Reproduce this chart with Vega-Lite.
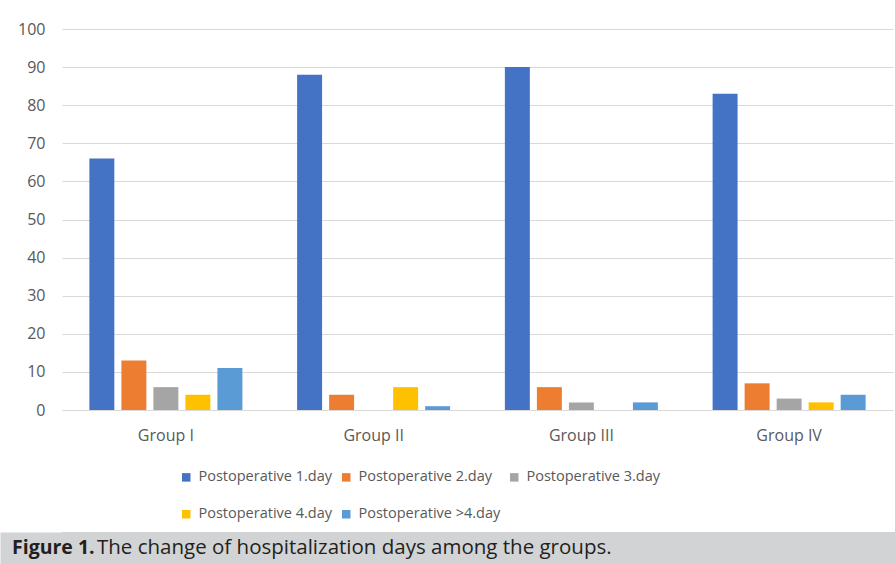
{
  "$schema": "https://vega.github.io/schema/vega-lite/v6.json",
  "padding": {"top": 21, "left": 0, "right": 0, "bottom": 0},
  "background": "white",
  "spacing": 8,
  "columns": 1,
  "align": "none",
  "resolve": {"legend": {"color": "independent"}, "scale": {"color": "independent"}},
  "config": {"view": {"stroke": null}, "font": "Open Sans"},
  "title": {
    "text": "Figure 1.",
    "orient": "bottom",
    "anchor": "start",
    "frame": "bounds",
    "offset": -10,
    "dx": 12,
    "fontSize": 19.5,
    "fontWeight": "bold",
    "font": "Open Sans",
    "color": "#231f20",
    "baseline": "alphabetic"
  },
  "concat": [
    {
      "width": 831,
      "height": 381,
      "data": {
        "values": [
          {"group": "Group I", "day": "Postoperative 1.day", "value": 66},
          {"group": "Group I", "day": "Postoperative 2.day", "value": 13},
          {"group": "Group I", "day": "Postoperative 3.day", "value": 6},
          {"group": "Group I", "day": "Postoperative 4.day", "value": 4},
          {"group": "Group I", "day": "Postoperative >4.day", "value": 11},
          {"group": "Group II", "day": "Postoperative 1.day", "value": 88},
          {"group": "Group II", "day": "Postoperative 2.day", "value": 4},
          {"group": "Group II", "day": "Postoperative 3.day", "value": 0},
          {"group": "Group II", "day": "Postoperative 4.day", "value": 6},
          {"group": "Group II", "day": "Postoperative >4.day", "value": 1},
          {"group": "Group III", "day": "Postoperative 1.day", "value": 90},
          {"group": "Group III", "day": "Postoperative 2.day", "value": 6},
          {"group": "Group III", "day": "Postoperative 3.day", "value": 2},
          {"group": "Group III", "day": "Postoperative 4.day", "value": 0},
          {"group": "Group III", "day": "Postoperative >4.day", "value": 2},
          {"group": "Group IV", "day": "Postoperative 1.day", "value": 83},
          {"group": "Group IV", "day": "Postoperative 2.day", "value": 7},
          {"group": "Group IV", "day": "Postoperative 3.day", "value": 3},
          {"group": "Group IV", "day": "Postoperative 4.day", "value": 2},
          {"group": "Group IV", "day": "Postoperative >4.day", "value": 4}
        ]
      },
      "mark": {"type": "bar"},
      "encoding": {
        "x": {
          "field": "group",
          "type": "nominal",
          "sort": null,
          "scale": {"paddingInner": 0, "paddingOuter": 0},
          "axis": {
            "title": null,
            "labelAngle": 0,
            "ticks": false,
            "domainColor": "#d9d9d9",
            "domainWidth": 1,
            "labelPadding": 17,
            "labelFontSize": 16,
            "labelColor": "#595959",
            "labelFont": "Open Sans",
            "grid": false
          }
        },
        "xOffset": {
          "field": "day",
          "type": "nominal",
          "sort": null,
          "scale": {"paddingInner": 0.22, "paddingOuter": 0.855}
        },
        "y": {
          "field": "value",
          "type": "quantitative",
          "scale": {"domain": [0, 100], "nice": false},
          "axis": {
            "title": null,
            "values": [0, 10, 20, 30, 40, 50, 60, 70, 80, 90, 100],
            "grid": true,
            "gridColor": "#d9d9d9",
            "domain": false,
            "ticks": false,
            "labelPadding": 17,
            "labelFontSize": 16,
            "labelColor": "#595959",
            "labelFont": "Open Sans",
            "minExtent": 62
          }
        },
        "color": {
          "field": "day",
          "type": "nominal",
          "sort": null,
          "scale": {
            "domain": ["Postoperative 1.day", "Postoperative 2.day", "Postoperative 3.day", "Postoperative 4.day", "Postoperative >4.day"],
            "range": ["#4472c4", "#ed7d31", "#a5a5a5", "#ffc000", "#5b9bd5"]
          },
          "legend": {
            "title": null,
            "orient": "none",
            "legendX": 117,
            "legendY": 441,
            "direction": "horizontal",
            "columns": 3,
            "symbolType": "square",
            "symbolSize": 72,
            "symbolStrokeWidth": 0,
            "labelFontSize": 14.5,
            "labelFont": "Open Sans",
            "labelColor": "#595959",
            "labelOffset": 5,
            "rowPadding": 22,
            "columnPadding": 6
          }
        }
      }
    },
    {
      "width": 833,
      "height": 32,
      "view": {"fill": "#d2d3d5", "stroke": null},
      "title": {
        "text": "The change of hospitalization days among the groups.",
        "orient": "bottom",
        "anchor": "start",
        "frame": "group",
        "offset": -10,
        "dx": 35,
        "fontSize": 20.5,
        "fontWeight": "normal",
        "font": "Open Sans",
        "color": "#231f20",
        "baseline": "alphabetic"
      },
      "data": {"values": [{"strip": 1}]},
      "layer": [
        {"mark": {"type": "rect", "fill": "#d2d3d5"}, "encoding": {}},
        {
          "mark": {"type": "point", "opacity": 0},
          "encoding": {
            "y": {
              "field": "strip",
              "type": "quantitative",
              "axis": {
                "title": null,
                "labels": false,
                "ticks": false,
                "grid": false,
                "domain": true,
                "domainWidth": 62,
                "domainColor": "#d2d3d5",
                "domainCap": "butt",
                "offset": 31
              }
            }
          }
        }
      ]
    }
  ]
}
